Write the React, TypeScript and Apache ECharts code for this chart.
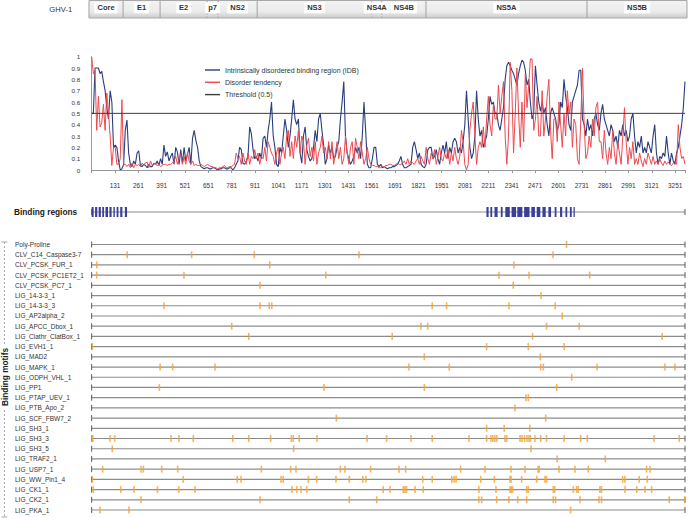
import React, { useEffect, useRef } from "react";
import * as echarts from "echarts";

const FONT = "'Liberation Sans', Arial, Helvetica, sans-serif";

// ---------------- data ----------------
const PROTEIN_LENGTH = 3306;
const TICK_STEP = 130;
const THRESHOLD = 0.5;

const genomeLabel = "GHV-1";
const genomeNames = ["Core", "E1", "E2", "p7", "NS2", "NS3", "NS4A", "NS4B", "NS5A", "NS5B"];
const genomeBounds = [-14, 176, 382, 644, 705, 923, 1561, 1617, 1863, 2760, 3317];
const dashedBounds = [644, 705, 1561, 1617];

// IDB profile, sampled evenly from residue 1 to PROTEIN_LENGTH
const idbValues = [
  0.5, 0.5, 0.9, 0.9, 0.9, 0.85, 0.87, 0.78, 0.7, 0.55,
  0.45, 0.7, 0.6, 0.2, 0.22, 0.2, 0.08, 0, 0.01, 0.05,
  0.35, 0.44, 0.15, 0.05, 0.03, 0.08, 0.05, 0.15, 0.17, 0.04,
  0.03, 0.05, 0.04, 0.02, 0.05, 0.03, 0.03, 0.06, 0.05, 0.08,
  0.04, 0.1, 0.05, 0.22, 0.12, 0.16, 0.08, 0.12, 0.15, 0.05,
  0.2, 0.16, 0.05, 0.18, 0.06, 0.2, 0.08, 0.14, 0.2, 0.05,
  0.28, 0.35, 0.26, 0.2, 0.08, 0.03, 0.02, 0.01, 0.02, 0.02,
  0.01, 0.01, 0.02, 0.02, 0.01, 0, 0.01, 0.01, 0.02, 0.02,
  0.01, 0.01, 0.02, 0.02, 0, 0.02, 0.05, 0.08, 0.2, 0.18,
  0.06, 0.05, 0.08, 0.12, 0.38, 0.32, 0.18, 0.1, 0.12, 0.08,
  0.15, 0.1, 0.28, 0.3, 0.2, 0.35, 0.45, 0.6, 0.3, 0.2,
  0.05, 0.03, 0.2, 0.15, 0.3, 0.45, 0.35, 0.2, 0.3, 0.45,
  0.62, 0.45, 0.4, 0.45, 0.15, 0.06, 0.3, 0.38, 0.18, 0.12,
  0.08, 0.1, 0.2, 0.35, 0.25, 0.45, 0.5, 0.35, 0.22, 0.05,
  0.1, 0.22, 0.15, 0.2, 0.1, 0.12, 0.2, 0.25, 0.45, 0.6,
  0.78, 0.3, 0.15, 0.1, 0.05, 0.08, 0.12, 0.2, 0.15, 0.2,
  0.1, 0.3, 0.6, 0.35, 0.05, 0.02, 0.02,
  0.1, 0.2, 0.2, 0.05, 0.03, 0.05, 0.02, 0.03, 0.02, 0.01,
  0.02, 0.02, 0.03, 0.03, 0.04, 0.05, 0.08, 0.12, 0.05, 0.02,
  0.02, 0.03, 0.04, 0.05, 0.2, 0.25, 0.18, 0.1, 0.15, 0.05,
  0.03, 0.02, 0.05, 0.18, 0.2, 0.2, 0.1, 0.12, 0.18, 0.1,
  0.05, 0.15, 0.22, 0.15, 0.25, 0.1, 0.2, 0.15, 0.25, 0.28,
  0.25, 0.15, 0.2, 0.15, 0.25, 0.4, 0.7, 0.45, 0.2, 0.1,
  0.15, 0.3, 0.7, 0.45, 0.3, 0.35, 0.2, 0.25, 0.3, 0.45,
  0.65, 0.58, 0.6, 0.5, 0.5, 0.4, 0.35, 0.45, 0.55, 0.8,
  0.92, 0.95, 0.92, 0.88, 0.85, 0.8, 0.75, 0.85, 0.92, 0.97,
  0.95, 0.88, 0.75, 0.8, 0.6, 0.45, 0.5, 0.92, 0.75, 0.6,
  0.52, 0.6, 0.5, 0.55, 0.4, 0.3, 0.5, 0.55, 0.5, 0.45,
  0.35, 0.4, 0.6, 0.55, 0.8, 0.65, 0.55, 0.4, 0.35, 0.6,
  0.65, 0.7, 0.75, 0.88, 0.88, 0.45, 0.4, 0.3, 0.45, 0.35,
  0.4, 0.3, 0.45, 0.5, 0.4, 0.35, 0.5, 0.58, 0.45, 0.4,
  0.35, 0.3, 0.4, 0.35, 0.25, 0.3, 0.2, 0.35, 0.3, 0.4,
  0.3, 0.35, 0.25, 0.3, 0.45, 0.5, 0.3, 0.15, 0.25, 0.2,
  0.3, 0.15, 0.2, 0.15, 0.25, 0.2, 0.15, 0.3, 0.4, 0.15,
  0.05, 0.12, 0.1, 0.15, 0.12, 0.3, 0.15, 0.05, 0.15, 0.08,
  0.05, 0.15, 0.2, 0.3, 0.4, 0.55, 0.78,
];

// Disorder tendency profile, same sampling
const disorderValues = [
  1.0, 0.85, 0.88, 0.35, 0.65, 0.38, 0.42, 0.58, 0.35, 0.68,
  0.5, 0.3, 0.04, 0.2, 0.2, 0.05, 0.05, 0.1, 0.62, 0.05,
  0.05, 0.03, 0.05, 0.02, 0.06, 0.02, 0.05, 0.04, 0.05, 0.03,
  0.06, 0.05, 0.06, 0.07, 0.02, 0.08, 0.04, 0.06, 0.05, 0.04,
  0.05, 0.03, 0.04, 0.05, 0.05, 0.04, 0.05, 0.05, 0.06, 0.08,
  0.12, 0.05, 0.1, 0.14, 0.05, 0.12, 0.05, 0.15, 0.08, 0.05,
  0.08, 0.04, 0.05, 0.04, 0.04, 0.05, 0.04, 0.03, 0.04, 0.05,
  0.04, 0.03, 0.03, 0.02, 0.02, 0.01, 0.02, 0.02, 0.03, 0.04,
  0.02, 0.02, 0.03, 0.03, 0.04, 0.05, 0.15, 0.1, 0.12, 0.05,
  0.15, 0.08, 0.05, 0.15, 0.05, 0.12, 0.1, 0.18, 0.1, 0.15,
  0.05, 0.12, 0.1, 0.2, 0.08, 0.25, 0.2, 0.15, 0.12, 0.05,
  0.15, 0.2, 0.05, 0.15, 0.2, 0.1, 0.3, 0.35, 0.12, 0.25,
  0.1, 0.3, 0.2, 0.35, 0.15, 0.3, 0.25, 0.05, 0.22, 0.28,
  0.12, 0.2, 0.08, 0.25, 0.05, 0.15, 0.2, 0.3, 0.15, 0.2,
  0.1, 0.25, 0.1, 0.25, 0.05, 0.15, 0.25, 0.1, 0.2, 0.05,
  0.1, 0.3, 0.15, 0.05, 0.2, 0.25, 0.05, 0.28, 0.2, 0.1,
  0.25, 0.15, 0.05, 0.1, 0.2, 0.1, 0.05,
  0.04, 0.04, 0.03, 0.03, 0.02, 0.02, 0.03, 0.03, 0.04, 0.04,
  0.05, 0.05, 0.04, 0.04, 0.05, 0.06, 0.05, 0.05, 0.06, 0.08,
  0.05, 0.1, 0.05, 0.08, 0.06, 0.05, 0.08, 0.1, 0.05, 0.12,
  0.08, 0.05, 0.2, 0.1, 0.05, 0.15, 0.1, 0.18, 0.05, 0.12,
  0.2, 0.1, 0.08, 0.15, 0.1, 0.18, 0.05, 0.15, 0.08, 0.2,
  0.1, 0.05, 0.12, 0.35, 0.25, 0.05, 0, 0.05, 0.35, 0.5,
  0.6, 0.3, 0.05, 0.2, 0.25, 0.2, 0.38, 0.2, 0.45, 0.65,
  0.4, 0.3, 0.58, 0.45, 0.45, 0.75, 0.5, 0.65, 0.78, 0.3,
  0.05, 0.3, 0.95, 0.7, 0.15, 0.5, 0.9, 0.5, 0.2, 0.6,
  0.25, 0.85, 0.55, 0.75, 0.98, 0.98, 0.35, 0.45, 0.65, 0.3,
  0.3, 0.7, 0.3, 0.45, 0.65, 0.8, 0.35, 0.1, 0.45, 0.45,
  0.25, 0.6, 0.4, 0.2, 0.5, 0.3, 0.7, 0.5, 0.6, 0.2,
  0.45, 0.4, 0.1, 0.05, 0.45, 0.9, 0.4, 0.1, 0.15, 0.3,
  0.2, 0.45, 0.3, 0.55, 0.6, 0.25, 0.25, 0.1, 0.35, 0.15,
  0.05, 0.2, 0.1, 0.35, 0.15, 0.05, 0.25, 0.15, 0.05, 0.3,
  0.55, 0.25, 0.05, 0.2, 0.1, 0.25, 0.05, 0.1, 0.05, 0.15,
  0.08, 0.03, 0.1, 0.05, 0.15, 0.1, 0.05, 0.12, 0.05, 0.08,
  0.05, 0.1, 0.06, 0.04, 0.08, 0.05, 0.07, 0.05, 0.04, 0.06,
  0.08, 0.05, 0.4, 0.2, 0.1, 0.12, 0.05,
];

const bindingRegions: [number, number][] = [
  [1, 12], [20, 32], [40, 52], [60, 70], [78, 92], [100, 112], [122, 130], [140, 150],
  [160, 172], [186, 198], [2200, 2212], [2222, 2232], [2245, 2262], [2280, 2290],
  [2305, 2330], [2340, 2365], [2372, 2400], [2410, 2440], [2450, 2470], [2480, 2500],
  [2512, 2530], [2545, 2560], [2580, 2590], [2610, 2622], [2640, 2650], [2665, 2675], [2685, 2692],
];

const motifNames = [
  "Poly-Proline", "CLV_C14_Caspase3-7", "CLV_PCSK_FUR_1", "CLV_PCSK_PC1ET2_1", "CLV_PCSK_PC7_1",
  "LIG_14-3-3_1", "LIG_14-3-3_3", "LIG_AP2alpha_2", "LIG_APCC_Dbox_1", "LIG_Clathr_ClatBox_1",
  "LIG_EVH1_1", "LIG_MAD2", "LIG_MAPK_1", "LIG_ODPH_VHL_1", "LIG_PP1", "LIG_PTAP_UEV_1",
  "LIG_PTB_Apo_2", "LIG_SCF_FBW7_2", "LIG_SH3_1", "LIG_SH3_3", "LIG_SH3_5", "LIG_TRAF2_1",
  "LIG_USP7_1", "LIG_WW_Pin1_4", "LIG_CK1_1", "LIG_CK2_1", "LIG_PKA_1",
];

const motifPositions: number[][] = [
  [2646],
  [199, 558, 907, 1490, 2571],
  [29, 993, 2353],
  [29, 515, 1305, 2270, 2437, 2775],
  [939, 2349],
  [2504],
  [404, 939, 990, 1004, 1898, 1978, 2325, 2583],
  [2622],
  [781, 1835, 1873, 2535, 2717],
  [876, 1675, 2457, 3179],
  [5, 2201, 2433, 2633],
  [1854, 2500],
  [382, 452, 688, 1768, 1993, 2502, 2517, 2816, 3194, 3250],
  [2675],
  [378, 1295, 1854, 2591],
  [2420, 2433],
  [2359],
  [1364, 2530],
  [2201, 2299, 2442],
  [3, 7, 103, 129, 443, 487, 567, 787, 876, 998, 1113, 1124, 1157, 1256, 1535, 1644, 1780, 1898,
    2103, 2201, 2225, 2236, 2247, 2258, 2303, 2313, 2387, 2398, 2412, 2426, 2437, 2445, 2470,
    2502, 2535, 2633, 2725, 2762, 3133, 3274],
  [116, 1126, 2448],
  [2594, 2862],
  [62, 276, 289, 391, 480, 946, 1109, 1139, 1386, 1412, 1555, 1713, 1750, 2056, 2192, 2337,
    2415, 2488, 2494, 2604, 2693, 2767, 3092, 3111],
  [5, 511, 812, 833, 1056, 1068, 1208, 1254, 1362, 1436, 1511, 1529, 1845, 1898, 2007, 2020,
    2031, 2168, 2244, 2331, 2337, 2396, 2480, 2526, 2535, 2959, 2971, 3051, 3096],
  [10, 163, 237, 367, 486, 577, 1117, 1143, 1167, 1199, 1625, 1663, 1737, 1746, 1755, 1802,
    1848, 2158, 2253, 2331, 2338, 2346, 2424, 2433, 2572, 2581, 2684, 2702, 2711, 2832, 2841,
    2972, 3037, 3083, 3120],
  [276, 939, 1436, 1589, 2158, 2173, 2257, 2325, 2374, 2424, 2572, 2585, 2721, 2827, 2841, 3218, 3304],
  [47, 209, 2669],
];

// ---------------- helpers ----------------
const pos = (residue: number) => residue - 1; // axis position (residue 1 at 0)
const X_MAX = pos(PROTEIN_LENGTH);
const SAMPLE_STEP = X_MAX / (idbValues.length - 1);

const SERIES_IDB = "Intrinsically disordered binding region (IDB)";
const SERIES_DIS = "Disorder tendency";
const SERIES_THR = "Threshold (0.5)";

const GRID_LEFT = 91.67;
const GRID_RIGHT = 6;

export default function App() {
  const ref = useRef<HTMLDivElement>(null);

  useEffect(() => {
    if (!ref.current) return;
    const chart = echarts.init(ref.current, undefined, { renderer: "svg" });

    const hiddenX = (gridIndex: number) => ({
      type: "value",
      gridIndex,
      min: 0,
      max: X_MAX,
      show: false,
    });

    const rowRender = (params: any, api: any) => {
      const row = api.value(2);
      const p0 = api.coord([api.value(0), row]);
      const p1 = api.coord([api.value(1), row]);
      const y = p0[1];
      return {
        type: "group",
        children: [
          { type: "line", shape: { x1: p0[0], y1: y, x2: p1[0], y2: y }, style: { stroke: "#8c8c8c", lineWidth: 1.2 } },
          { type: "line", shape: { x1: p0[0], y1: y - 3, x2: p0[0], y2: y + 3 }, style: { stroke: "#5a5a5a", lineWidth: 1 } },
          { type: "line", shape: { x1: p1[0], y1: y - 3, x2: p1[0], y2: y + 3 }, style: { stroke: "#5a5a5a", lineWidth: 1 } },
        ],
      };
    };

    const genomeData = genomeNames.map((_, i) => [pos(genomeBounds[i]), pos(genomeBounds[i + 1]), 0]);
    const lastGenome = genomeNames.length - 1;

    const segmentGeom = (api: any) => {
      const p0 = api.coord([api.value(0), 0]);
      const p1 = api.coord([api.value(1), 0]);
      const h = api.size([0, 1])[1];
      return { x0: p0[0], x1: p1[0], top: p0[1] - h / 2, bot: p0[1] + h / 2, h };
    };

    const option: any = {
      animation: false,
      textStyle: { fontFamily: FONT },
      grid: [
        { left: GRID_LEFT, right: GRID_RIGHT, top: 0.5, height: 17.5, outerBoundsMode: "none" },
        { left: GRID_LEFT, right: GRID_RIGHT, top: 56.7, height: 113.3, outerBoundsMode: "none" },
        { left: GRID_LEFT, right: GRID_RIGHT, top: 202, height: 20, outerBoundsMode: "none" },
        { left: GRID_LEFT, right: GRID_RIGHT, top: 244.5, height: 265.5, outerBoundsMode: "none" },
      ],
      xAxis: [
        hiddenX(0),
        {
          type: "value",
          gridIndex: 1,
          min: 0,
          max: X_MAX,
          interval: TICK_STEP,
          axisLine: { show: true, lineStyle: { color: "#9a9a9a", width: 1 } },
          axisTick: { show: true, length: 3, lineStyle: { color: "#9a9a9a" } },
          splitLine: { show: false },
          axisLabel: {
            fontSize: 6.4,
            color: "#333",
            fontFamily: FONT,
            margin: 12,
            formatter: (v: number) => (v > 0 && Math.round(v) % TICK_STEP === 0 ? String(Math.round(v) + 1) : ""),
          },
        },
        hiddenX(2),
        hiddenX(3),
      ],
      yAxis: [
        {
          type: "category",
          gridIndex: 0,
          data: [genomeLabel],
          axisLine: { show: false },
          axisTick: { show: false },
          axisLabel: { fontSize: 7.6, color: "#333", fontFamily: FONT, margin: 19.5 },
        },
        {
          type: "value",
          gridIndex: 1,
          min: 0,
          max: 1,
          interval: 0.1,
          axisLine: { show: true, lineStyle: { color: "#9a9a9a", width: 1 } },
          axisTick: { show: false },
          splitLine: { show: false },
          axisLabel: { fontSize: 6.2, color: "#333", fontFamily: FONT, margin: 11.5 },
        },
        {
          type: "category",
          gridIndex: 2,
          data: ["Binding regions"],
          axisLine: { show: false },
          axisTick: { show: false },
          axisLabel: {
            fontSize: 8.3,
            fontWeight: "bold",
            color: "#222",
            fontFamily: FONT,
            align: "left",
            margin: GRID_LEFT - 14,
          },
        },
        {
          type: "category",
          gridIndex: 3,
          data: motifNames,
          inverse: true,
          boundaryGap: false,
          axisLine: { show: false },
          axisTick: { show: false },
          splitLine: { show: false },
          axisLabel: {
            interval: 0,
            fontSize: 6.5,
            color: "#333",
            fontFamily: FONT,
            align: "left",
            margin: GRID_LEFT - 15,
          },
        },
      ],
      legend: {
        orient: "vertical",
        left: 200,
        top: 60.5,
        itemWidth: 15,
        itemHeight: 1.4,
        itemGap: 3.3,
        selectedMode: false,
        textStyle: { fontSize: 7, color: "#333", fontFamily: FONT, lineHeight: 9 },
        data: [
          { name: SERIES_IDB, icon: "rect" },
          { name: SERIES_DIS, icon: "rect" },
          { name: SERIES_THR, icon: "rect" },
        ],
      },
      series: [
        {
          type: "custom",
          name: "genome",
          xAxisIndex: 0,
          yAxisIndex: 0,
          clip: false,
          silent: true,
          encode: { x: [0, 1], y: 2 },
          data: genomeData,
          renderItem: (params: any, api: any) => {
            const i = params.dataIndex;
            const { x0, x1, top, bot, h } = segmentGeom(api);
            const dashedLeft = dashedBounds.indexOf(genomeBounds[i]) >= 0;
            const children: any[] = [
              {
                type: "rect",
                shape: { x: x0, y: top, width: x1 - x0, height: h },
                style: {
                  fill: new echarts.graphic.LinearGradient(0, 0, 0, 1, [
                    { offset: 0, color: "#f3f3f3" },
                    { offset: 0.62, color: "#ebebeb" },
                    { offset: 1, color: "#cdcdcd" },
                  ]),
                },
              },
              { type: "line", shape: { x1: x0, y1: top, x2: x1, y2: top }, style: { stroke: "#a8a8a8", lineWidth: 1 } },
              { type: "line", shape: { x1: x0, y1: bot, x2: x1, y2: bot }, style: { stroke: "#a8a8a8", lineWidth: 1 } },
              {
                type: "line",
                shape: { x1: x0, y1: top, x2: x0, y2: bot },
                style: { stroke: "#a0a0a0", lineWidth: 1, lineDash: dashedLeft ? [2, 2] : null },
              },
            ];
            if (i === lastGenome) {
              children.push({ type: "line", shape: { x1: x1, y1: top, x2: x1, y2: bot }, style: { stroke: "#a0a0a0", lineWidth: 1 } });
            }
            return { type: "group", children };
          },
        },
        {
          type: "custom",
          name: "genomeLabels",
          xAxisIndex: 0,
          yAxisIndex: 0,
          clip: false,
          silent: true,
          z: 3,
          encode: { x: [0, 1], y: 2 },
          data: genomeData,
          renderItem: (params: any, api: any) => {
            const i = params.dataIndex;
            const { x0, x1, top, h } = segmentGeom(api);
            return {
              type: "text",
              style: {
                text: genomeNames[i],
                x: (x0 + x1) / 2,
                y: top + h * 0.42,
                align: "center",
                verticalAlign: "middle",
                fill: "#333",
                font: `bold 7.5px ${FONT}`,
                backgroundColor: "#ffffff",
                padding: [1.5, 3, 1.5, 3],
              },
            };
          },
        },
        {
          type: "line",
          name: SERIES_IDB,
          xAxisIndex: 1,
          yAxisIndex: 1,
          showSymbol: false,
          symbol: "none",
          color: "#2b3d7d",
          lineStyle: { color: "#2b3d7d", width: 1.1 },
          data: idbValues.map((v, i) => [i * SAMPLE_STEP, v]),
          z: 2,
        },
        {
          type: "line",
          name: SERIES_DIS,
          xAxisIndex: 1,
          yAxisIndex: 1,
          showSymbol: false,
          symbol: "none",
          color: "#ec4a50",
          lineStyle: { color: "#ec4a50", width: 1 },
          data: disorderValues.map((v, i) => [i * SAMPLE_STEP, v]),
          z: 3,
        },
        {
          type: "line",
          name: SERIES_THR,
          xAxisIndex: 1,
          yAxisIndex: 1,
          showSymbol: false,
          symbol: "none",
          color: "#3c3c3c",
          lineStyle: { color: "#3c3c3c", width: 1 },
          data: [[0, THRESHOLD], [X_MAX, THRESHOLD]],
          z: 4,
        },
        {
          type: "custom",
          name: "regionRow",
          xAxisIndex: 2,
          yAxisIndex: 2,
          silent: true,
          encode: { x: [0, 1], y: 2 },
          data: [[0, X_MAX, 0]],
          renderItem: rowRender,
        },
        {
          type: "custom",
          name: "regions",
          xAxisIndex: 2,
          yAxisIndex: 2,
          silent: true,
          encode: { x: [0, 1], y: 2 },
          data: bindingRegions.map(([s, e]) => [pos(s), pos(e), 0]),
          renderItem: (params: any, api: any) => {
            const p0 = api.coord([api.value(0), 0]);
            const p1 = api.coord([api.value(1), 0]);
            const w = Math.max(1.2, p1[0] - p0[0]);
            return {
              type: "rect",
              shape: { x: p0[0], y: p0[1] - 5, width: w, height: 10 },
              style: { fill: "#3b3f97" },
            };
          },
        },
        {
          type: "custom",
          name: "motifRows",
          xAxisIndex: 3,
          yAxisIndex: 3,
          silent: true,
          encode: { x: [0, 1], y: 2 },
          data: motifNames.map((_, i) => [0, X_MAX, i]),
          renderItem: rowRender,
        },
        {
          type: "scatter",
          name: "motifs",
          xAxisIndex: 3,
          yAxisIndex: 3,
          silent: true,
          symbol: "rect",
          symbolSize: [1.6, 7],
          itemStyle: { color: "#f2a336" },
          data: motifPositions.flatMap((list, row) => list.map((r) => [pos(r), row])),
          z: 5,
        },
      ],
      graphic: [
        {
          type: "line",
          shape: { x1: 4.4, y1: 242, x2: 4.4, y2: 517 },
          style: { stroke: "#a5a5a5", lineWidth: 1, lineDash: [2, 2] },
          silent: true,
        },
        { type: "line", shape: { x1: 1.5, y1: 242, x2: 7.3, y2: 242 }, style: { stroke: "#a5a5a5", lineWidth: 1 }, silent: true },
        { type: "line", shape: { x1: 1.5, y1: 517, x2: 7.3, y2: 517 }, style: { stroke: "#a5a5a5", lineWidth: 1 }, silent: true },
        {
          type: "text",
          x: 4.6,
          y: 377,
          rotation: Math.PI / 2,
          silent: true,
          style: {
            text: "Binding motifs",
            align: "center",
            verticalAlign: "middle",
            fill: "#222",
            font: `bold 8.3px ${FONT}`,
            backgroundColor: "#ffffff",
            padding: [0, 3, 0, 3],
          },
        },
      ],
    };

    chart.setOption(option);
    return () => chart.dispose();
  }, []);

  return (
    <div
      ref={ref}
      style={{ position: "fixed", left: 0, top: 0, width: 691, height: 518, background: "#ffffff" }}
    />
  );
}
